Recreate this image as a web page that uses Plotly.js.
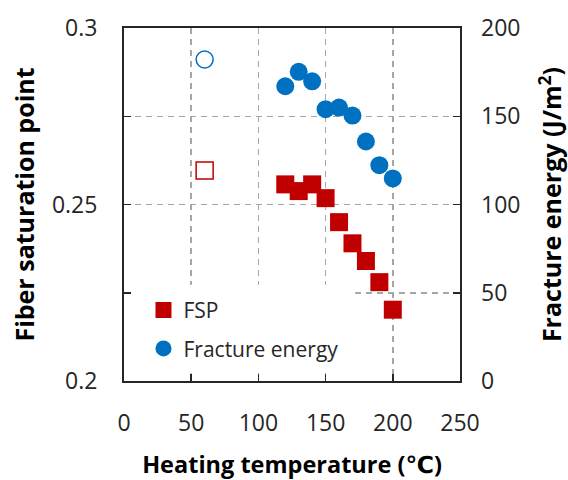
<!DOCTYPE html>
<html>
<head>
<meta charset="utf-8">
<script src="https://cdn.plot.ly/plotly-3.0.1.min.js"></script>
<style>html,body{margin:0;padding:0;background:#fff;}#chart{width:568px;height:480px;}</style>
</head>
<body>
<div id="chart"></div>
<script>
// Heating temperatures (°C)
var temps = [120, 130, 140, 150, 160, 170, 180, 190, 200];
// Fiber saturation point (left axis)
var fsp = [0.2557, 0.2538, 0.2557, 0.2518, 0.2450, 0.2390, 0.2340, 0.2280, 0.2202];
// Fracture energy, J/m2 (right axis)
var fractureEnergy = [167, 175.2, 169.8, 154, 154.9, 150.4, 135.7, 122.3, 114.8];
// Unheated control (open markers)
var controlTemp = [60];
var controlFsp = [0.2596];
var controlFe = [182.2];
// Tick labels
var leftTickVals = [0.2, 0.25, 0.3];
var leftTickText = ['0.2', '0.25', '0.3'];
var xTickVals = [0, 50, 100, 150, 200, 250];
var rightTickVals = [0, 50, 100, 150, 200];

var RED = '#C00000', BLUE = '#0070C0';
var FONT = 'Open Sans, DejaVu Sans, sans-serif';
var GRID = '#a6a6a6';

var traces = [
  {x: temps, y: fsp, type: 'scatter', mode: 'markers', name: 'FSP', legendgroup: 'a',
   marker: {symbol: 'square', size: 18, color: RED}, yaxis: 'y'},
  {x: temps, y: fractureEnergy, type: 'scatter', mode: 'markers', name: 'Fracture energy', legendgroup: 'b',
   marker: {symbol: 'circle', size: 18, color: BLUE}, yaxis: 'y2'},
  {x: controlTemp, y: controlFsp, type: 'scatter', mode: 'markers', showlegend: false,
   marker: {symbol: 'square-open', size: 17, color: RED, line: {width: 1.5, color: RED}}, yaxis: 'y'},
  {x: controlTemp, y: controlFe, type: 'scatter', mode: 'markers', showlegend: false,
   marker: {symbol: 'circle-open', size: 17, color: BLUE, line: {width: 1.5, color: BLUE}}, yaxis: 'y2'}
];

var layout = {
  width: 568, height: 480,
  margin: {l: 123.5, r: 107.5, t: 27.5, b: 98.5},
  paper_bgcolor: '#fff', plot_bgcolor: '#fff',
  font: {family: FONT, color: '#262626'},
  showlegend: true,
  legend: {x: 0.058, y: 0.258, xanchor: 'left', yanchor: 'top', bgcolor: 'rgba(0,0,0,0)',
           font: {family: FONT, size: 21, color: '#262626'}, tracegroupgap: 8, traceorder: 'grouped'},
  xaxis: {
    range: [0, 250], tickvals: xTickVals, ticks: 'inside', ticklen: 7, tickwidth: 1.5, tickcolor: '#262626',
    showline: true, linecolor: '#262626', linewidth: 2, mirror: true, zeroline: false,
    showgrid: true, gridcolor: GRID, gridwidth: 1.5, griddash: '6px,5px',
    tickfont: {family: FONT, size: 23, color: '#262626'}, ticklabelstandoff: 20,
    title: {text: '<b>Heating temperature (℃)</b>', font: {family: FONT, size: 23.5, color: '#000'}, standoff: 25}
  },
  yaxis: {
    range: [0.2, 0.3], tickvals: leftTickVals, ticktext: leftTickText, ticks: 'inside', ticklen: 7, tickwidth: 1.5, tickcolor: '#262626',
    showline: true, linecolor: '#262626', linewidth: 2, mirror: true, zeroline: false,
    showgrid: true, gridcolor: GRID, gridwidth: 1.5, griddash: '6px,5px',
    minor: {dtick: 0.025, tick0: 0.2, ticks: 'inside', ticklen: 7, tickwidth: 1.5, tickcolor: '#262626',
            showgrid: true, gridcolor: GRID, gridwidth: 1.5, griddash: '6px,5px'},
    tickfont: {family: FONT, size: 23, color: '#262626'}, ticklabelstandoff: 20,
    title: {text: '<b>Fiber saturation point</b>', font: {family: FONT, size: 25, color: '#000'}, standoff: 10}
  },
  yaxis2: {
    range: [0, 200], tickvals: rightTickVals, overlaying: 'y', side: 'right', showgrid: false, zeroline: false,
    ticks: 'inside', ticklen: 7, tickwidth: 1.5, tickcolor: '#262626', showline: false,
    tickfont: {family: FONT, size: 23, color: '#262626'}, ticklabelstandoff: 20,
    title: {text: '<b>Fracture energy (J/m<sup>2</sup>)</b>', font: {family: FONT, size: 25, color: '#000'}, standoff: 27}
  },
  shapes: [
    {type: 'rect', layer: 'between', xref: 'x', yref: 'y', x0: 6, x1: 172, y0: 0.2022, y1: 0.2273,
     fillcolor: '#fff', line: {width: 0}}
  ]
};

Plotly.newPlot('chart', traces, layout, {staticPlot: true, displayModeBar: false});
</script>
</body>
</html>
